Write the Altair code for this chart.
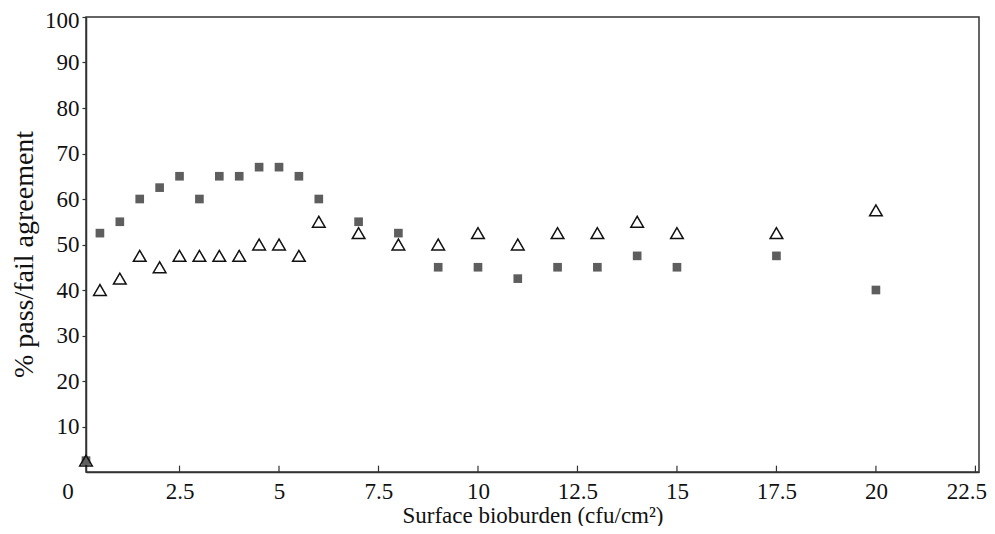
import altair as alt
import pandas as pd

# Surface bioburden (cfu/cm2) for each series
x_square = [0.15, 0.5, 1, 1.5, 2, 2.5, 3, 3.5, 4, 4.5, 5, 5.5, 6, 7, 8, 9, 10, 11, 12, 13, 14, 15, 17.5, 20]
y_square = [2.5, 52.5, 55, 60, 62.5, 65, 60, 65, 65, 67, 67, 65, 60, 55, 52.5, 45, 45, 42.5, 45, 45, 47.5, 45, 47.5, 40]

x_triangle = [0.15, 0.5, 1, 1.5, 2, 2.5, 3, 3.5, 4, 4.5, 5, 5.5, 6, 7, 8, 9, 10, 11, 12, 13, 14, 15, 17.5, 20]
y_triangle = [2.5, 40, 42.5, 47.5, 45, 47.5, 47.5, 47.5, 47.5, 50, 50, 47.5, 55, 52.5, 50, 50, 52.5, 50, 52.5, 52.5, 55, 52.5, 52.5, 57.5]

x_ticks = [2.5, 5, 7.5, 10, 12.5, 15, 17.5, 20, 22.5]
y_ticks = [10, 20, 30, 40, 50, 60, 70, 80, 90, 100]
origin_label = ["0"]

FONT = "Liberation Serif"

sq = pd.DataFrame({"x": x_square, "y": y_square})
tri = pd.DataFrame({"x": x_triangle, "y": y_triangle})
ticks = pd.DataFrame({"x": x_ticks, "y0": [0] * len(x_ticks), "y1": [1.4] * len(x_ticks)})
orig = pd.DataFrame({"x": [-0.3], "y": [0], "t": origin_label})

xscale = alt.Scale(domain=[0.15, 22.59], nice=False, zero=False)
yscale = alt.Scale(domain=[0, 100], nice=False)

xaxis = alt.Axis(values=x_ticks, format=".4~g", tickSize=0, labelPadding=8,
                 title="Surface bioburden (cfu/cm²)", titlePadding=1,
                 titleFontSize=23, labelFontSize=23,
                 labelFlush=False, labelOverlap=False,
                 labelAlign={"condition": {"test": "datum.value > 22", "value": "right"}, "value": "center"},
                 labelOffset={"condition": {"test": "datum.value > 22", "value": 11}, "value": 0})
yaxis = alt.Axis(values=y_ticks, tickSize=4, labelPadding=3, labelFontSize=23,
                 labelOffset={"condition": {"test": "datum.value > 99", "value": 3}, "value": 0},
                 title="%  pass/fail agreement", titleFontSize=28,
                 titleX=-62, titleY=237, titleBaseline="middle")

squares = alt.Chart(sq).mark_point(shape="square", filled=True, color="#5e5e5e",
                                    size=75, opacity=1).encode(
    x=alt.X("x:Q", scale=xscale, axis=xaxis),
    y=alt.Y("y:Q", scale=yscale, axis=yaxis),
)

triangles = alt.Chart(tri).mark_point(shape="triangle-up", filled=False, stroke="#111111",
                                       strokeWidth=1.5, size=160, opacity=1).encode(
    x=alt.X("x:Q", scale=xscale),
    y=alt.Y("y:Q", scale=yscale),
)

inner_ticks = alt.Chart(ticks).mark_rule(color="#333333", strokeWidth=1.2).encode(
    x=alt.X("x:Q", scale=xscale),
    y=alt.Y("y0:Q", scale=yscale),
    y2="y1:Q",
)

origin = alt.Chart(orig).mark_text(font=FONT, fontSize=23, baseline="top", dy=9,
                                   color="#111111").encode(
    x=alt.X("x:Q", scale=xscale),
    y=alt.Y("y:Q", scale=yscale),
    text="t:N",
)

chart = alt.layer(inner_ticks, squares, triangles, origin).properties(
    width=893, height=455,
    autosize=alt.AutoSizeParams(type="none"),
    padding={"left": 78, "top": 9, "right": 8, "bottom": 54},
).configure_view(
    stroke="#333333", strokeWidth=1.5
).configure_axis(
    grid=False, domainColor="#333333", domainWidth=1.5, tickColor="#333333",
    tickWidth=1.2, labelFont=FONT, titleFont=FONT,
    labelColor="#111111", titleColor="#111111",
    titleFontWeight="normal"
)

chart.save("out.html", embed_options={"renderer": "svg", "actions": False})
